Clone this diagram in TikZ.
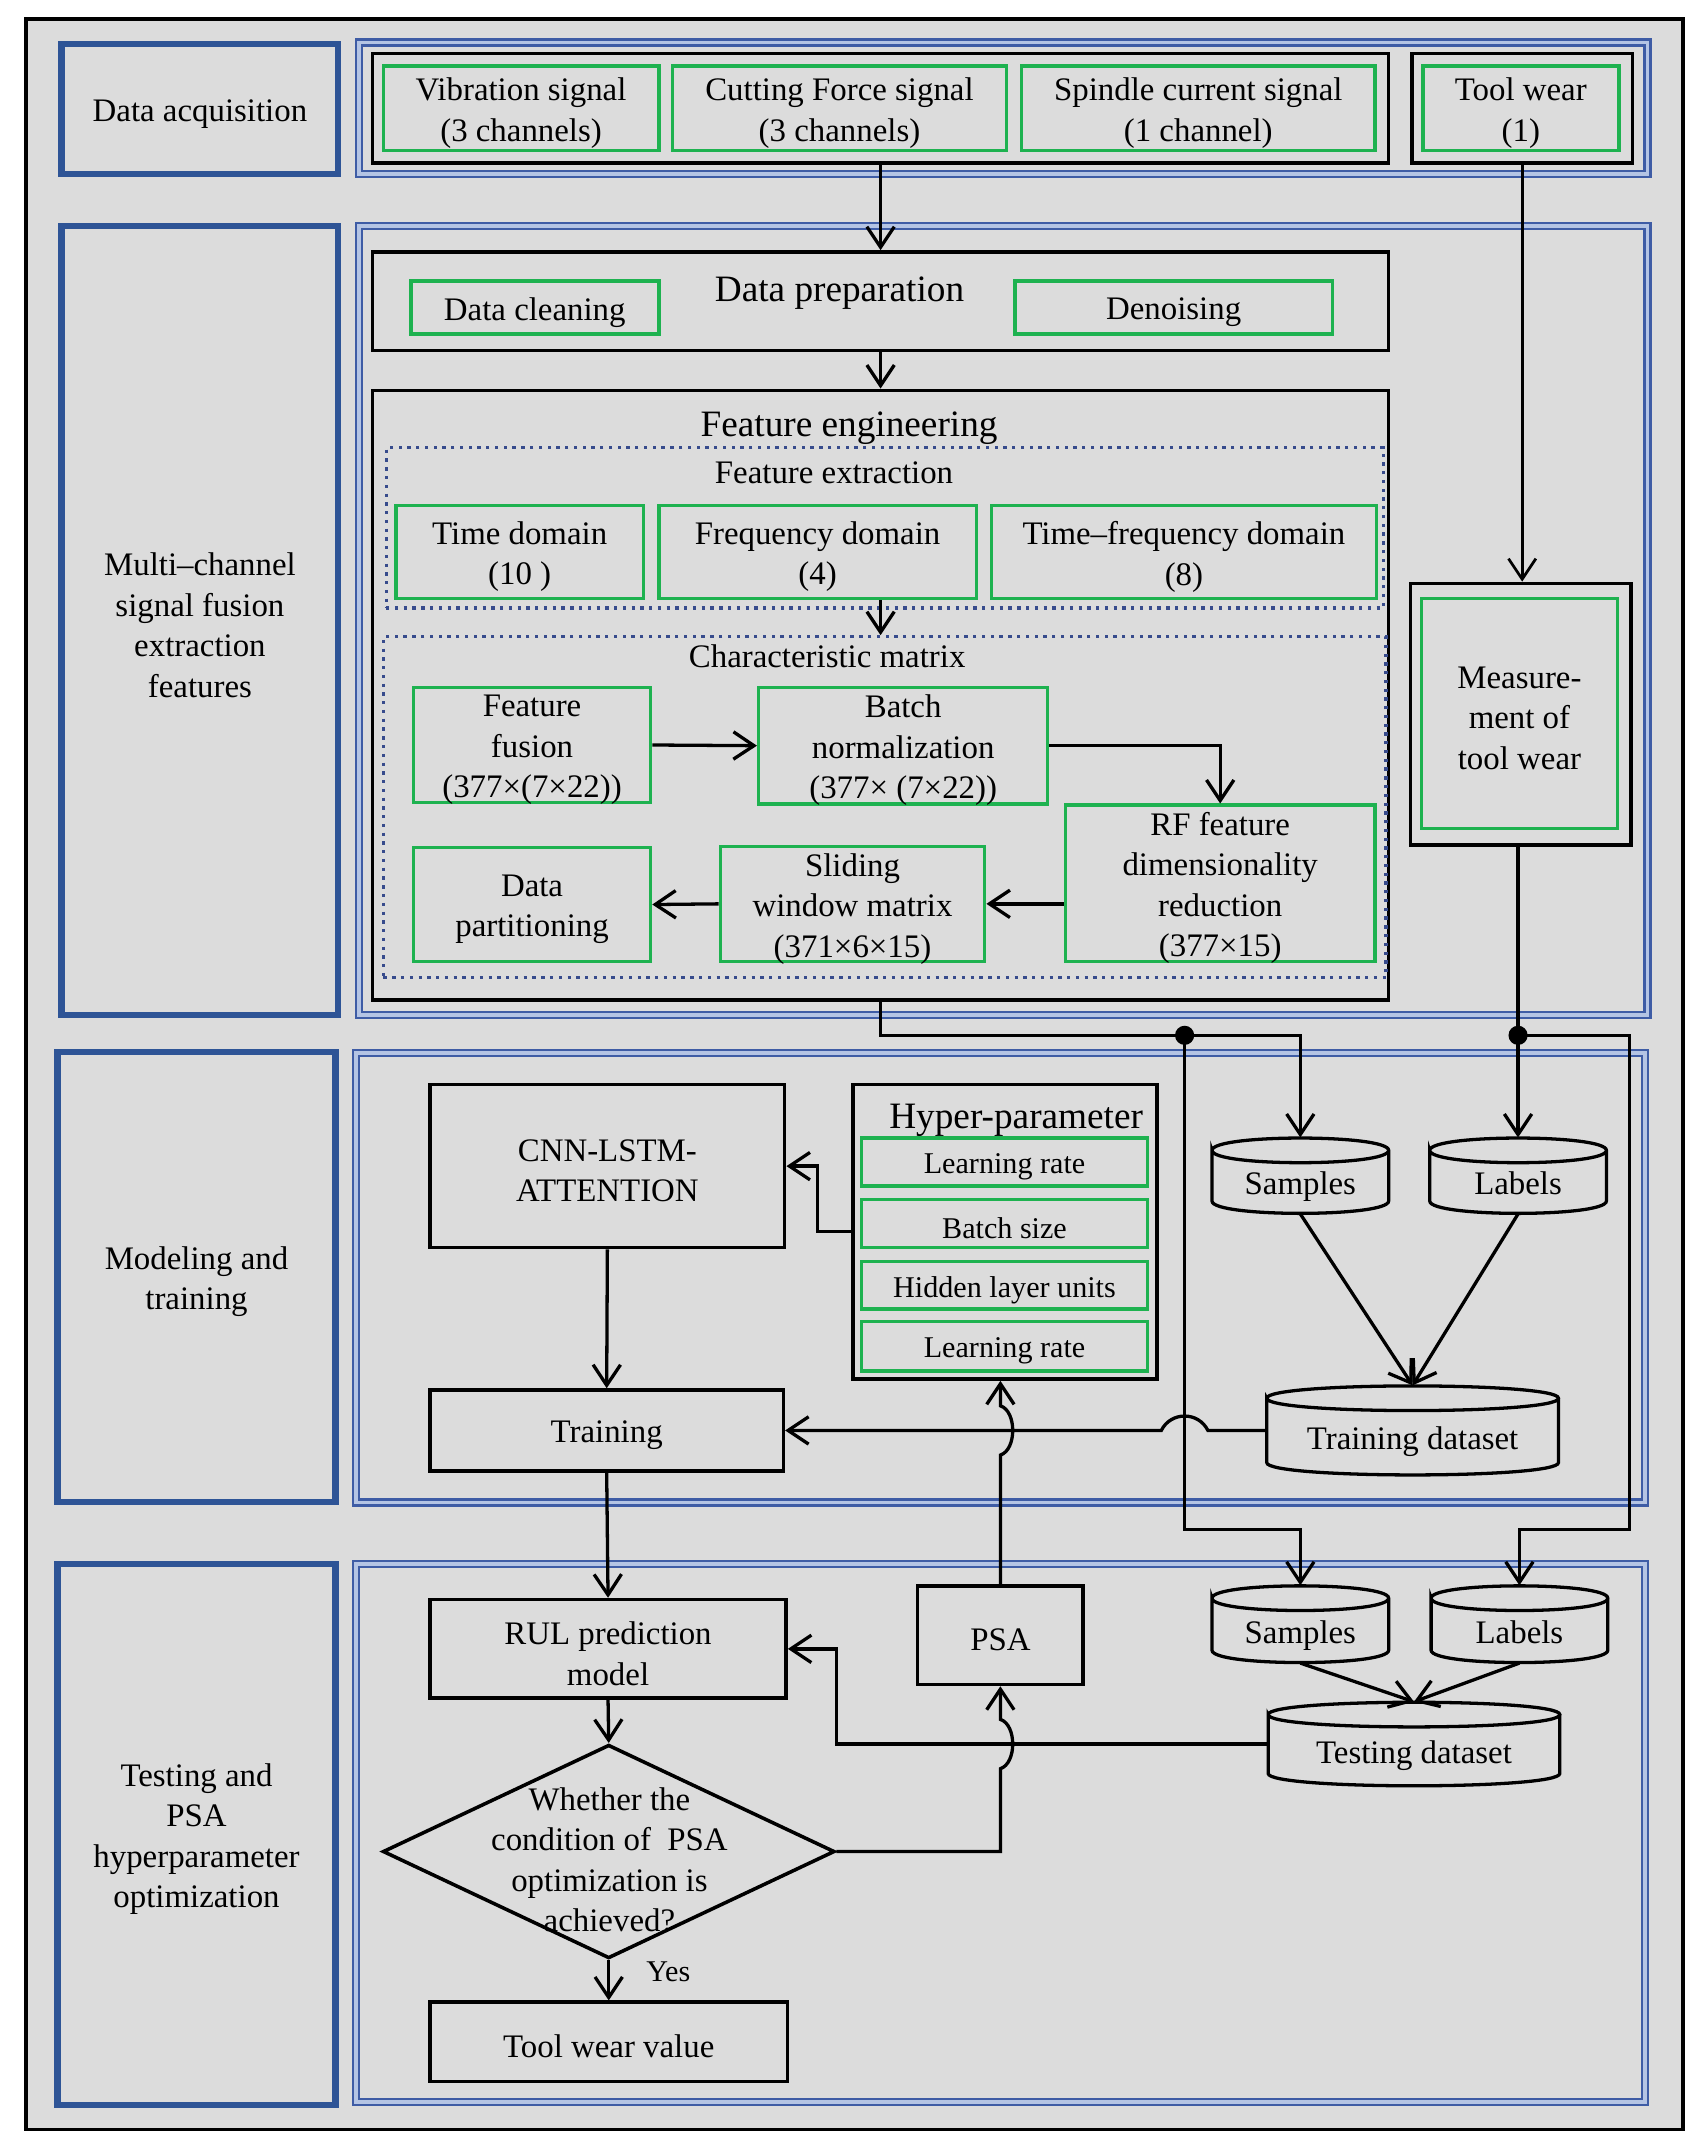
\documentclass[tikz,border=0pt]{standalone}
\usepackage{fontspec}
\setmainfont{Liberation Serif}
\usetikzlibrary{fit,shapes.geometric,arrows.meta,calc}
\definecolor{bg}{RGB}{220,220,220}
\definecolor{grn}{RGB}{30,178,80}
\definecolor{bthick}{RGB}{46,84,150}
\definecolor{bdk}{RGB}{62,92,165}
\definecolor{blt}{RGB}{180,196,228}
\definecolor{dotb}{RGB}{55,75,140}
\newcommand{\mybox}[7]{\node[#1,fit={(#3,#4)(#5,#6)}] (#2) {};
  \node[#1,draw=none,yshift=-1.75pt] (#2t) at (#2.center) {#7};}
\newcommand{\mycyl}[6]{%
  \node[fit={(#2,#3)(#4,#5)},inner sep=0pt,draw=none] (#1) {};
  \node[anchor=base] (#1t) at ({(#2+#4)/2},{(#3+18+#5)/2+5}) {#6};
  \draw[cylline] (#2,#3+9) .. controls (#2,#3-3) and (#4,#3-3) .. (#4,#3+9)
     .. controls (#4,#3+21) and (#2,#3+21) .. (#2,#3+9)
     -- (#2,#5-9) .. controls (#2,#5+3) and (#4,#5+3) .. (#4,#5-9) -- (#4,#3+9);}
\tikzset{
  every node/.style={font=\fontsize{12}{14.8}\selectfont},
  gbox/.style={draw=grn,line width=1.3pt,inner sep=0pt,align=center},
  kbox/.style={draw=black,line width=1.3pt,inner sep=0pt,align=center},
  bbox/.style={draw=bthick,line width=2.3pt,inner sep=0pt,align=center},
  panel/.style={draw=bdk,double=blt,double distance=1.3pt,line width=0.9pt,inner sep=0pt},
  dotbox/.style={draw=dotb,dotted,line width=1.2pt,inner sep=0pt},
  hbox/.style={gbox,font=\fontsize{11}{13}\selectfont},
  ttl/.style={font=\fontsize{13.6}{16}\selectfont},
  cylline/.style={line width=1.2pt,draw=black},
  conn/.style={line width=1.2pt,draw=black},
  arr/.style={conn,-{Straight Barb[length=7.5pt,width=10pt]}},
  jdot/.style={circle,fill=black,inner sep=0pt,minimum size=7pt},
}
\begin{document}
\begin{tikzpicture}[x=0.5pt,y=-0.5pt]
\useasboundingbox (0,0) rectangle (1245,1573.6);
% frame
\node[fit={(19,14)(1229,1555)},draw=black,fill=bg,line width=1.3pt,inner sep=0pt] (frame) {};
% panels
\mybox{panel}{p1}{262}{31}{1203}{127}{}
\mybox{panel}{p2}{262}{165}{1203}{741}{}
\mybox{panel}{p3}{260}{769}{1201}{1097}{}
\mybox{panel}{p4}{260}{1142}{1201}{1535}{}
% left boxes
\mybox{bbox}{L1}{45}{32}{247}{127}{Data acquisition}
\mybox{bbox}{L2}{45}{165}{247}{741}{Multi–channel\\signal fusion\\extraction\\features}
\mybox{bbox}{L3}{42}{768}{245}{1097}{Modeling and\\training}
\mybox{bbox}{L4}{42}{1142}{245}{1537}{Testing and\\PSA\\hyperparameter\\optimization}
% row 1
\mybox{kbox}{r1}{272}{39}{1014}{119}{}
\mybox{gbox}{vib}{280}{48}{481}{110}{Vibration signal\\(3 channels)}
\mybox{gbox}{cut}{491}{48}{735}{110}{Cutting Force signal\\(3 channels)}
\mybox{gbox}{spi}{746}{48}{1004}{110}{Spindle current signal\\(1 channel)}
\mybox{kbox}{tw}{1031}{39}{1192}{119}{}
\mybox{gbox}{twg}{1039}{48}{1182}{110}{Tool wear\\(1)}
% data preparation
\mybox{kbox}{dp}{272}{184}{1014}{256}{}
\node[ttl] (dpt) at (613,214) {Data preparation};
\mybox{gbox}{clean}{300}{205}{481}{244}{Data cleaning}
\mybox{gbox}{den}{741}{205}{973}{244}{Denoising}
% feature engineering
\mybox{kbox}{fe}{272}{285}{1014}{730}{}
\node[ttl] (fet) at (620,313) {Feature engineering};
\mybox{dotbox}{fx}{282}{327}{1010}{444}{}
\node (fxt) at (609,345) {Feature extraction};
\mybox{gbox}{td1}{289}{369}{470}{437}{Time domain\\(10 )}
\mybox{gbox}{fd}{481}{369}{713}{437}{Frequency domain\\(4)}
\mybox{gbox}{tfd}{724}{369}{1005}{437}{Time–frequency domain\\(8)}
\mybox{dotbox}{cm}{280}{465}{1012}{714}{}
\node (cmt) at (604,479) {Characteristic matrix};
\mybox{gbox}{ff}{302}{502}{475}{586}{Feature\\fusion\\(377×(7×22))}
\mybox{gbox}{bn}{554}{502}{765}{587}{Batch\\normalization\\(377× (7×22))}
\mybox{gbox}{rf}{778}{588}{1004}{702}{RF feature\\dimensionality\\reduction\\(377×15)}
\mybox{gbox}{sw}{526}{618}{719}{702}{Sliding\\window matrix\\(371×6×15)}
\mybox{gbox}{dpart}{302}{619}{475}{702}{Data\\partitioning}
% measurement
\mybox{kbox}{meas}{1030}{426}{1191}{617}{}
\mybox{gbox}{measg}{1038}{437}{1181}{605}{Measure-\\ment of\\tool wear}
% modeling
\mybox{kbox}{cnn}{314}{792}{573}{911}{CNN-LSTM-\\ATTENTION}
\mybox{kbox}{hp}{623}{792}{845}{1007}{}
\node[ttl] (hpt) at (742,818) {Hyper-parameter};
\mybox{hbox}{lr1}{629}{831}{838}{866}{Learning rate}
\mybox{hbox}{bs}{629}{876}{838}{911}{Batch size}
\mybox{hbox}{hl}{629}{921}{838}{956}{Hidden layer units}
\mybox{hbox}{lr2}{629}{965}{838}{1001}{Learning rate}
\mybox{kbox}{tr}{314}{1015}{572}{1074}{Training}
\mycyl{s1}{885}{831}{1014}{886}{Samples}
\mycyl{l1}{1044}{831}{1173}{886}{Labels}
\mycyl{tds}{925}{1012}{1138}{1077}{Training dataset}
% testing
\mybox{kbox}{rul}{314}{1168}{574}{1240}{RUL prediction\\model}
\mybox{kbox}{psa}{670}{1158}{791}{1230}{PSA}
\mycyl{s2}{885}{1158}{1014}{1214}{Samples}
\mycyl{l2}{1045}{1158}{1174}{1214}{Labels}
\mycyl{tes}{926}{1243}{1139}{1304}{Testing dataset}
\node[diamond,draw=black,line width=1.3pt,aspect=2.1,minimum width=165pt,minimum height=78pt,inner sep=0pt] (dm) at (444.5,1352) {};
\node[align=center] (dmt) at (445,1358) {Whether the\\condition of\ \ PSA\\optimization is\\achieved?};
\mybox{kbox}{twv}{314}{1462}{575}{1520}{Tool wear value}
\node[font=\fontsize{11}{13}\selectfont] (yes) at (488,1440) {Yes};
% connectors
\draw[arr] (r1.south) -- (dp.north);
\draw[conn,-{Straight Barb[length=7.5pt,width=10pt]},line width=1pt] (tw.south) -- (tw.south |- meas.north);
\draw[arr] (dp.south) -- (fe.north);
\draw[arr] (fd.south -| fe.north) -- (cm.north -| fe.north);
\draw[arr] (ff.east) -- (bn.west);
\draw[arr] (bn.east) -| (rf.north);
\draw[arr] (rf.west |- sw.east) -- (sw.east);
\draw[arr] (sw.west) -- (dpart.east);
\coordinate (j1) at (865,756);
\coordinate (j2) at (l1.north |- j1);
\coordinate (j3) at (865,1117);
\coordinate (j4) at (1190,756);
\draw[arr] (fe.south) |- (j1) -| (s1.north);
\draw[arr] (meas.south -| l1.north) -- (l1.north);
\draw[arr] (j1) -- (j3) -| (s2.north);
\draw[arr] (j2) -- (j4) -- (j4 |- j3) -| (l2.north);
\node[jdot] (d1) at (j1) {};
\node[jdot] (d2) at (j2) {};
\draw[arr] (s1.south) -- (tds.north);
\draw[arr] (l1.south) -- (tds.north);
\draw[arr] (s2.south) -- (tes.north);
\draw[arr] (l2.south) -- (tes.north);
% training dataset -> training (hop)
\coordinate (h3) at (j1 |- tds.west);
\draw[arr] (tds.west) -- ([xshift=8.5pt]h3) .. controls ([xshift=5pt,yshift=7pt]h3) and ([xshift=-5pt,yshift=7pt]h3) .. ([xshift=-8.5pt]h3) -- (tr.east);
% hyper -> cnn
\draw[arr] (hp.west) -- ++(-12.5pt,0) |- (cnn.east);
\draw[arr] (cnn.south) -- (tr.north);
\draw[arr] (tr.south) -- (rul.north);
% PSA -> hyper (hop)
\coordinate (h1) at (psa.north |- tr.east);
\draw[arr] (psa.north) -- ([yshift=-9pt]h1) .. controls ([xshift=6pt,yshift=-7pt]h1) and ([xshift=6pt,yshift=7pt]h1) .. ([yshift=9pt]h1) -- (psa.north |- hp.south);
% testing -> rul
\draw[arr] (tes.west) -- ++(-157.5pt,0) |- (rul.east);
\draw[arr] (rul.south) -- (dm.north);
\draw[arr] (dm.south) -- (twv.north);
% diamond -> PSA (hop)
\coordinate (h2) at (psa.south |- tes.west);
\draw[arr] (dm.east) -- (dm.east -| h2) -- ([yshift=-9pt]h2) .. controls ([xshift=6pt,yshift=-7pt]h2) and ([xshift=6pt,yshift=7pt]h2) .. ([yshift=9pt]h2) -- (psa.south);
\end{tikzpicture}
\end{document}
